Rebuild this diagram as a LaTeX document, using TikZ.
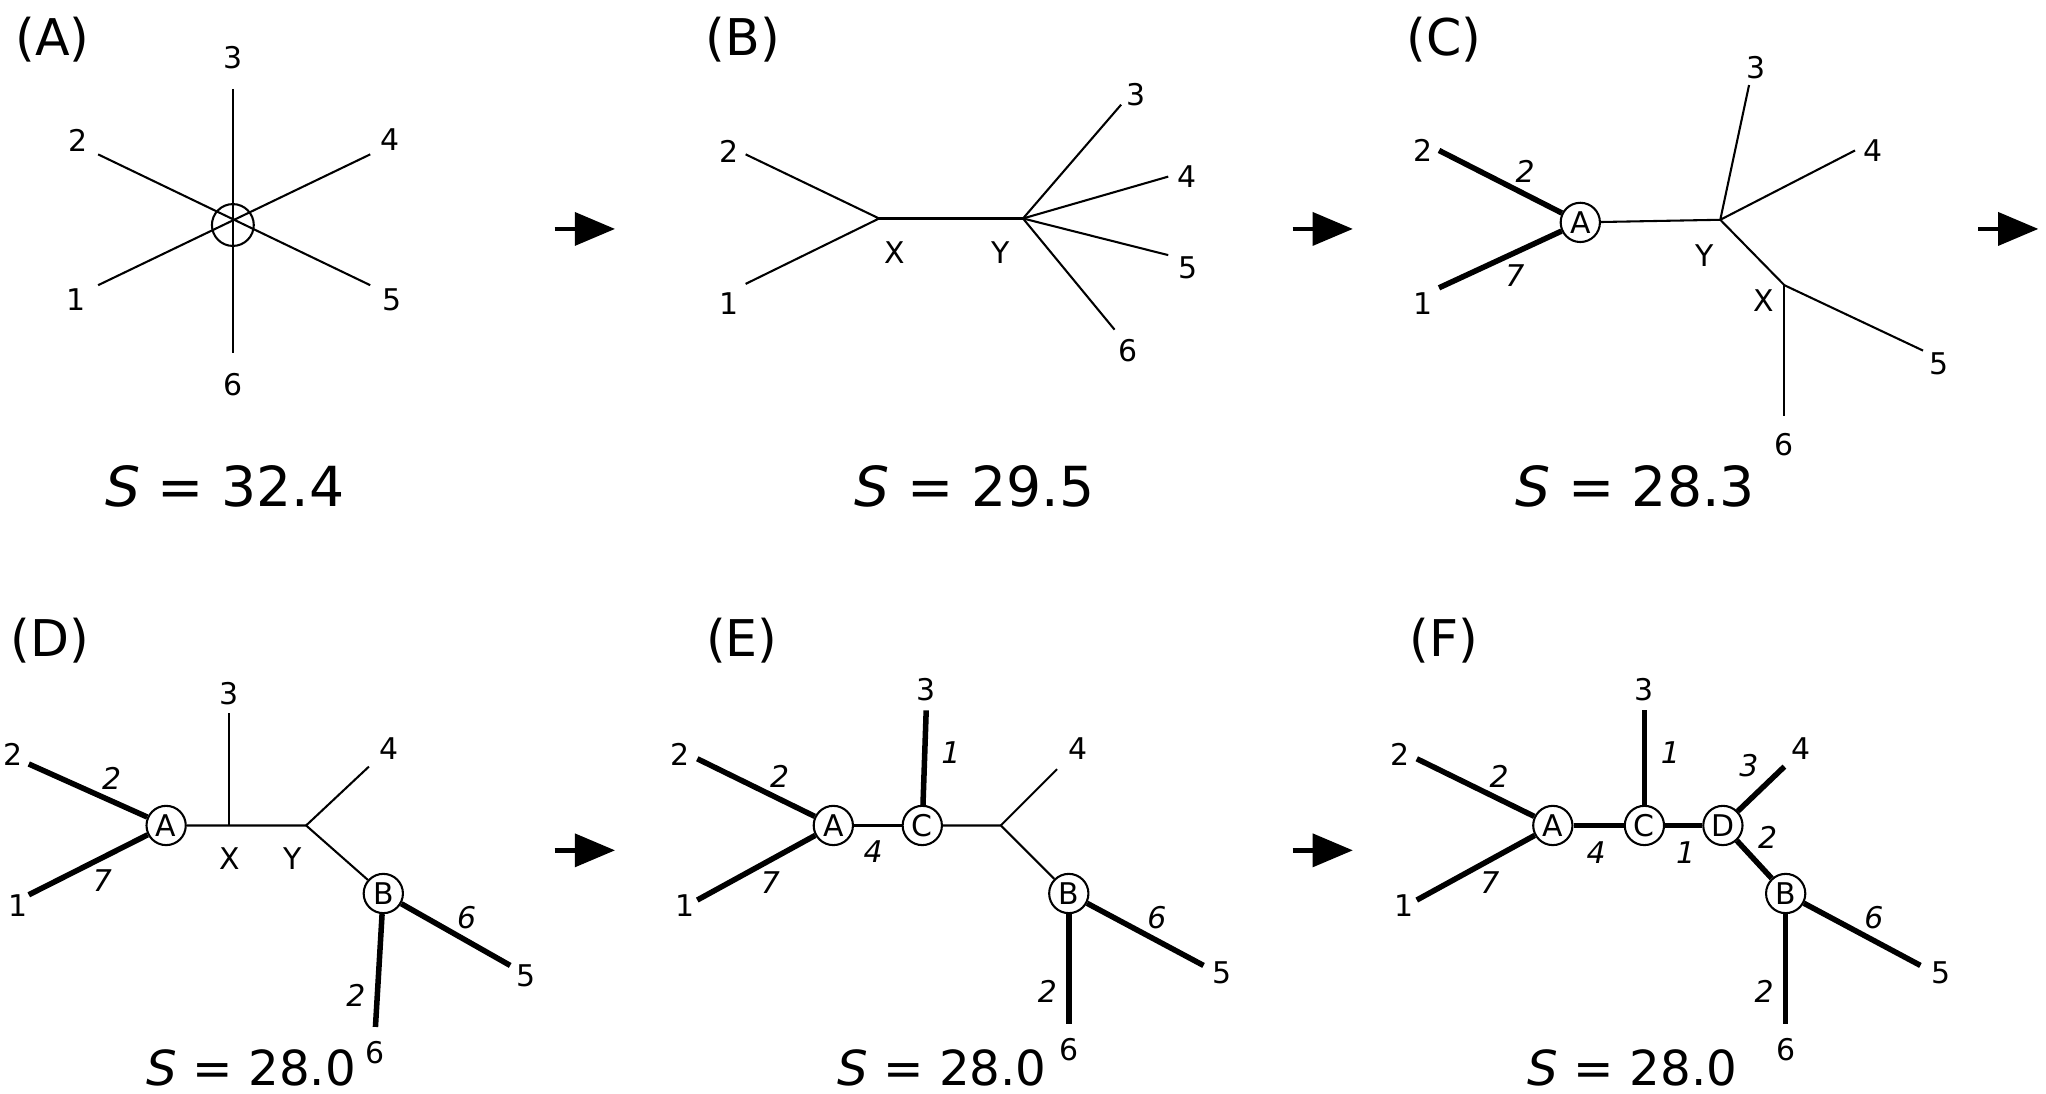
\documentclass[tikz,border=0pt]{standalone}
\usepackage{fontspec}
\setmainfont{DejaVu Sans}
\usetikzlibrary{arrows}
\tikzset{
  tip/.style={font=\fontsize{6.5}{7}\selectfont},
  elab/.style={font=\fontsize{6.5}{7}\selectfont\itshape,inner sep=1pt},
  panel/.style={font=\fontsize{11}{12}\selectfont},
  score/.style={font=\fontsize{12}{13}\selectfont},
  lowscore/.style={font=\fontsize{10.5}{11}\selectfont},
  vert/.style={circle,draw,fill=white,inner sep=0pt,minimum size=0.3cm,font=\fontsize{6.5}{7}\selectfont},
  hv/.style={line width=1.2pt},
  step arrow/.style={-triangle 45,line width=1pt}
}
\begin{document}
\begin{tikzpicture}[x=0.01cm,y=-0.01cm,line width=0.45pt]
\useasboundingbox (0,0) rectangle (1564,836);
% step arrows
\foreach \x/\y in {424/175,988/175,1512/175,424/650,988/650}
  \draw[step arrow] (\x,\y) -- ++(46,0);
% (A)
\node[panel] at (40,30) {(A)};
\coordinate (a0) at (178,172);
\node[tip] (a3) at (178,44) {3};
\node[tip] (a6) at (178,294) {6};
\node[tip] (a2) at (60,107) {2};
\node[tip] (a4) at (298,107) {4};
\node[tip] (a1) at (58,229) {1};
\node[tip] (a5) at (300,229) {5};
\draw (178,68) -- (178,270);
\draw (75,118) -- (283,218);
\draw (75,218) -- (283,118);
\draw (a0) circle (16);
\node[score] at (172,372) {\textit{S} = 32.4};
% (B)
\node[panel] at (568,30) {(B)};
\coordinate (bx) at (672,167);
\coordinate (by) at (782,167);
\node[tip] at (557,116) {2};
\node[tip] at (557,232) {1};
\node[tip] at (868,72) {3};
\node[tip] at (907,135) {4};
\node[tip] at (908,205) {5};
\node[tip] at (862,268) {6};
\node[tip] at (684,193) {X};
\node[tip] at (765,193) {Y};
\draw (570,118) -- (bx) -- (570,217);
\draw (bx) -- (by);
\draw (by) -- (857,80);
\draw (by) -- (893,135);
\draw (by) -- (893,195);
\draw (by) -- (852,252);
\node[score] at (745,372) {\textit{S} = 29.5};
% (C)
\node[panel] at (1104,30) {(C)};
\node[vert] (cA) at (1208,170) {A};
\coordinate (cy) at (1315,168);
\coordinate (cx) at (1364,218);
\draw[hv] (1100,115) -- (cA) node[elab,pos=0.7,above=1pt] {2};
\draw[hv] (1100,220) -- (cA) node[elab,pos=0.62,below=1pt] {7};
\node[tip] at (1088,115) {2};
\node[tip] at (1088,232) {1};
\draw (cA) -- (cy) -- (cx);
\draw (cy) -- (1337,65);
\draw (cy) -- (1418,115);
\draw (cx) -- (1470,268);
\draw (cx) -- (1364,318);
\node[tip] at (1342,52) {3};
\node[tip] at (1432,115) {4};
\node[tip] at (1482,278) {5};
\node[tip] at (1364,340) {6};
\node[tip] at (1303,195) {Y};
\node[tip] at (1348,230) {X};
\node[score] at (1250,372) {\textit{S} = 28.3};
% (D)
\node[panel] at (38,490) {(D)};
\node[vert] (dA) at (127,631) {A};
\node[vert] (dB) at (293,683) {B};
\coordinate (dx) at (175,631);
\coordinate (dy) at (234,631);
\draw[hv] (22,584) -- (dA) node[elab,pos=0.7,above=1pt] {2};
\draw[hv] (22,684) -- (dA) node[elab,pos=0.62,below=1pt] {7};
\draw (dA) -- (dx) -- (dy) -- (dB);
\draw (dx) -- (175,545);
\draw (dy) -- (282,586);
\draw[hv] (dB) -- (390,738) node[elab,pos=0.6,above=1pt] {6};
\draw[hv] (dB) -- (287,785) node[elab,pos=0.72,left=1pt] {2};
\node[tip] at (10,577) {2};
\node[tip] at (14,692) {1};
\node[tip] at (175,530) {3};
\node[tip] at (297,572) {4};
\node[tip] at (402,746) {5};
\node[tip] at (287,805) {6};
\node[tip] at (176,656) {X};
\node[tip] at (224,656) {Y};
\node[lowscore] at (192,816) {\textit{S} = 28.0};
% (E)
\node[panel] at (567,490) {(E)};
\node[vert] (eA) at (637,631) {A};
\node[vert] (eC) at (705,631) {C};
\node[vert] (eB) at (817,683) {B};
\coordinate (ey) at (765,631);
\draw[hv] (533,580) -- (eA) node[elab,pos=0.7,above=1pt] {2};
\draw[hv] (533,688) -- (eA) node[elab,pos=0.62,below=1pt] {7};
\draw (eA) -- (eC) node[elab,pos=0.4,below=2pt] {4};
\draw[hv] (eC) -- (708,543) node[elab,pos=0.55,right=2pt] {1};
\draw (eC) -- (ey) -- (eB);
\draw (ey) -- (808,588);
\draw[hv] (eB) -- (920,738) node[elab,pos=0.6,above=1pt] {6};
\draw[hv] (eB) -- (817,783) node[elab,pos=0.7,left=1pt] {2};
\node[tip] at (520,577) {2};
\node[tip] at (524,692) {1};
\node[tip] at (708,527) {3};
\node[tip] at (824,572) {4};
\node[tip] at (934,744) {5};
\node[tip] at (817,802) {6};
\node[lowscore] at (720,816) {\textit{S} = 28.0};
% (F)
\node[panel] at (1104,490) {(F)};
\node[vert] (fA) at (1187,631) {A};
\node[vert] (fC) at (1257,631) {C};
\node[vert] (fD) at (1317,631) {D};
\node[vert] (fB) at (1365,683) {B};
\draw[hv] (1083,580) -- (fA) node[elab,pos=0.7,above=1pt] {2};
\draw[hv] (1083,688) -- (fA) node[elab,pos=0.62,below=1pt] {7};
\draw[hv] (fA) -- (fC) node[elab,pos=0.45,below=2pt] {4};
\draw[hv] (fC) -- (fD) node[elab,pos=0.55,below=2pt] {1};
\draw[hv] (fC) -- (1257,543) node[elab,pos=0.55,right=2pt] {1};
\draw[hv] (fD) -- (1364,586) node[elab,pos=0.6,above left=0pt] {3};
\draw[hv] (fD) -- (fB) node[elab,pos=0.4,above right=0pt] {2};
\draw[hv] (fB) -- (1468,738) node[elab,pos=0.6,above=1pt] {6};
\draw[hv] (fB) -- (1365,783) node[elab,pos=0.7,left=1pt] {2};
\node[tip] at (1070,577) {2};
\node[tip] at (1073,692) {1};
\node[tip] at (1257,527) {3};
\node[tip] at (1377,572) {4};
\node[tip] at (1484,744) {5};
\node[tip] at (1365,802) {6};
\node[lowscore] at (1248,816) {\textit{S} = 28.0};
\end{tikzpicture}
\end{document}
